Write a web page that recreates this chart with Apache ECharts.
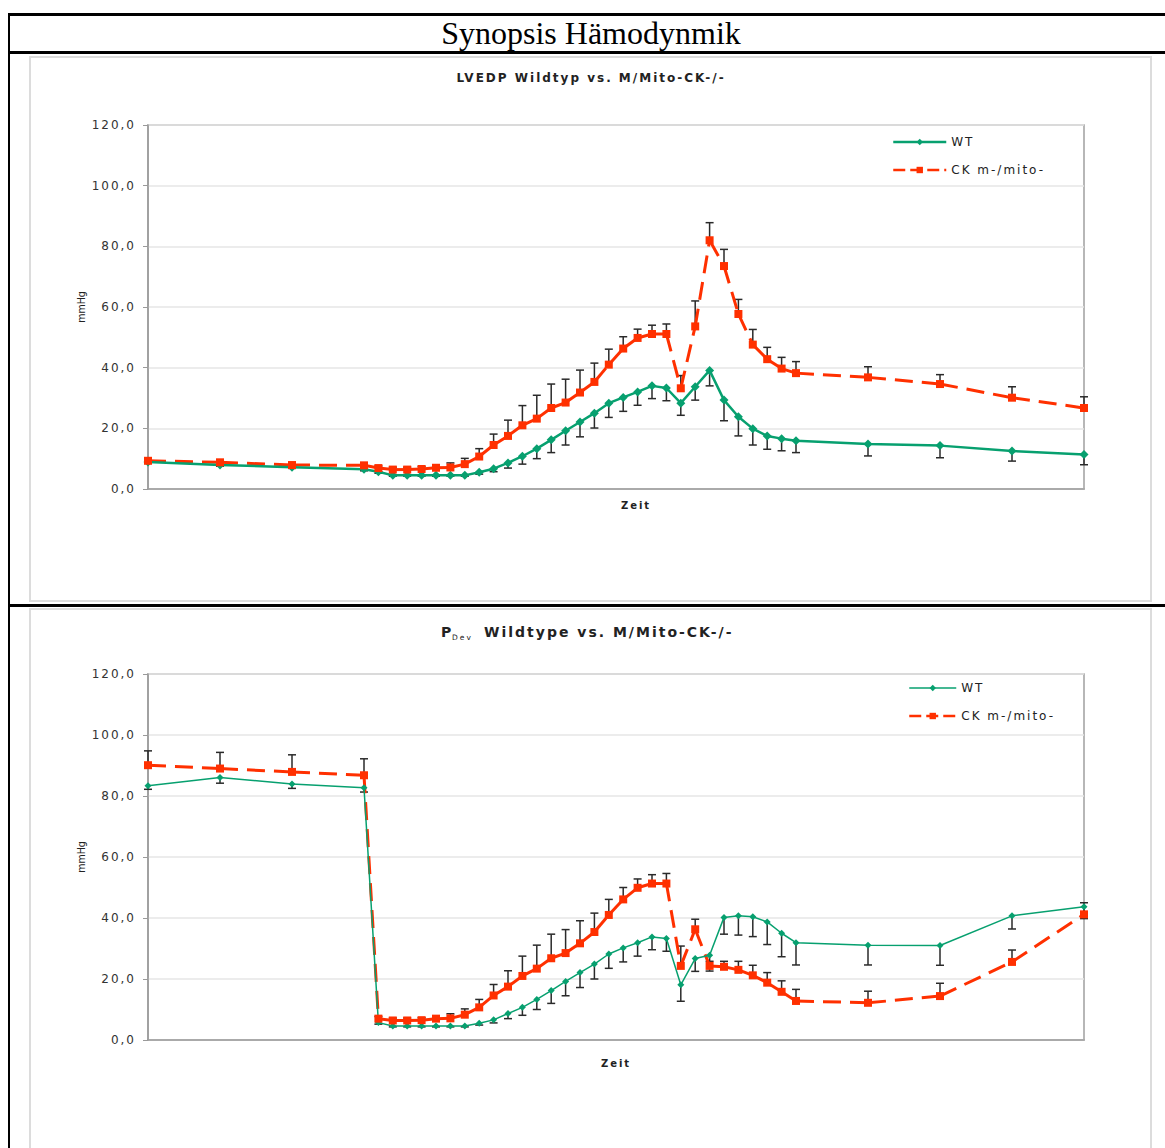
<!DOCTYPE html>
<html>
<head>
<meta charset="utf-8">
<script src="https://cdn.jsdelivr.net/npm/echarts@6/dist/echarts.min.js"></script>
<style>
  body { margin: 0; background: #fff; }
  #page { position: relative; width: 1165px; height: 1148px; overflow: hidden; background: #fff; }
  .hline { position: absolute; left: 8px; width: 1170px; height: 2.5px; background: #000; }
  .panel { position: absolute; left: 29px; width: 1119px; border: 2px solid #dcdcdc; background: #fff; }
  #heading { position: absolute; left: 10px; top: 15px; width: 1162px; height: 36px; line-height: 36px;
    text-align: center; font-family: 'Liberation Serif', 'DejaVu Serif', serif; font-size: 32px; color: #000; }
  #chart { position: absolute; left: 0; top: 0; width: 1165px; height: 1148px; }
  /* die Excel-Schrift läuft sehr weit */
  #chart svg text { letter-spacing: 2px; }
  #chart svg text[style*="Narrow"], #chart svg text[font-family*="Narrow"] { letter-spacing: 0; }
</style>
</head>
<body>
<div id="page">
  <div class="hline" style="top:13px"></div>
  <div class="hline" style="top:51px"></div>
  <div class="hline" style="top:604px"></div>
  <div style="position:absolute;left:8px;top:13px;width:2px;height:1140px;background:#000"></div>
  <div id="heading">Synopsis Hämodynmik</div>
  <div class="panel" style="top:56px;height:542px"></div>
  <div class="panel" style="top:608px;height:560px"></div>
  <div id="chart"></div>
</div>
<script>
// Zeitpunkte (Kategorie-Position auf der Zeitachse)
const zeit = [0, 5, 10, 15, 16, 17, 18, 19, 20, 21, 22, 23, 24, 25, 26, 27, 28, 29, 30, 31,
  32, 33, 34, 35, 36, 37, 38, 39, 40, 41, 42, 43, 44, 45, 50, 55, 60, 65];

// LVEDP
const lvedpWT = [8.9, 7.9, 7.2, 6.5, 5.7, 4.5, 4.5, 4.5, 4.5, 4.5, 4.5, 5.5, 6.7, 8.6, 10.8, 13.3,
  16.2, 19.2, 22.1, 25.0, 28.3, 30.2, 32.0, 34.0, 33.3, 28.3, 33.7, 39.1, 29.3, 23.8, 19.9, 17.5,
  16.6, 15.9, 14.8, 14.3, 12.5, 11.4];
const lvedpWTErr = [0.4, 0.4, 0.4, 0.5, 0.5, 0.3, 0.3, 0.3, 0.3, 0.3, 0.3, 0.6, 1.0, 1.7, 2.6, 3.3,
  4.2, 4.7, 4.9, 4.9, 4.7, 4.6, 4.4, 4.2, 4.2, 4.0, 4.4, 5.1, 6.8, 6.3, 5.4, 4.4, 4.0, 3.9, 3.9,
  4.0, 3.3, 3.4];
const lvedpCK = [9.3, 8.8, 7.9, 7.8, 6.9, 6.4, 6.4, 6.6, 7.0, 7.1, 8.2, 10.7, 14.5, 17.5, 21.0, 23.2,
  26.7, 28.5, 31.8, 35.3, 41.0, 46.3, 49.8, 51.1, 51.1, 33.2, 53.6, 82.0, 73.5, 57.7, 47.6, 42.8,
  39.7, 38.2, 36.8, 34.6, 30.1, 26.7];
const lvedpCKErr = [0.5, 0.5, 0.5, 0.6, 0.7, 0.8, 0.8, 0.8, 0.9, 1.5, 1.9, 2.6, 3.6, 5.2, 6.5, 7.7,
  7.9, 7.7, 7.4, 6.2, 5.1, 3.9, 2.9, 2.9, 3.3, 4.2, 8.4, 5.8, 5.5, 4.8, 5.0, 3.9, 3.7, 3.8, 3.5,
  3.1, 3.6, 3.7];

// PDev
const pdevWT = [83.4, 86.1, 83.9, 82.7, 5.7, 4.6, 4.6, 4.6, 4.6, 4.6, 4.6, 5.5, 6.6, 8.7, 10.7, 13.3,
  16.2, 19.2, 22.1, 24.9, 28.2, 30.2, 31.9, 33.8, 33.3, 18.1, 26.7, 27.8, 40.2, 40.7, 40.4, 38.7,
  35.0, 31.9, 31.1, 31.0, 40.7, 43.7];
const pdevWTErr = [1.2, 1.9, 1.4, 1.4, 0.5, 0.3, 0.3, 0.3, 0.3, 0.3, 0.3, 0.6, 1.0, 1.7, 2.6, 3.3,
  4.2, 4.7, 4.9, 4.9, 4.7, 4.6, 4.4, 4.2, 4.2, 5.4, 4.2, 5.2, 5.5, 6.3, 6.5, 7.4, 7.7, 7.3, 6.5,
  6.5, 4.3, 3.9];
const pdevCK = [90.1, 89.0, 87.9, 86.8, 7.0, 6.4, 6.4, 6.5, 7.0, 7.1, 8.3, 10.7, 14.6, 17.5, 21.0, 23.4,
  26.8, 28.5, 31.7, 35.4, 41.0, 46.1, 49.9, 51.3, 51.3, 24.3, 36.3, 24.3, 24.0, 23.0, 21.2, 18.8,
  15.8, 12.8, 12.2, 14.4, 25.6, 41.2];
const pdevCKErr = [4.7, 5.3, 5.6, 5.4, 0.7, 0.8, 0.8, 0.8, 0.9, 1.5, 1.9, 2.6, 3.6, 5.2, 6.5, 7.7,
  7.9, 7.7, 7.4, 6.2, 5.1, 3.9, 2.9, 2.9, 3.3, 6.5, 3.3, 1.5, 1.8, 2.8, 3.3, 3.3, 3.6, 3.8, 3.8,
  4.2, 3.9, 3.8];

const yTicks = [0, 20, 40, 60, 80, 100, 120];

const GREEN = '#07a06f';
const RED = '#ff3000';
const BAR = '#2a2a2a';
const FONT = "'DejaVu Sans', Verdana, sans-serif";
const NARROW = "'Liberation Sans Narrow', 'DejaVu Sans Condensed', 'Liberation Sans', sans-serif";
const DASH = [18, 9];

const chart = echarts.init(document.getElementById('chart'), null, { renderer: 'svg' });

const points = (vals) => zeit.map((x, i) => [x, vals[i]]);

// Excel startet das Strichmuster bei jedem Segment neu
function dashedLine(g, vals, width) {
  return {
    type: 'custom',
    xAxisIndex: g,
    yAxisIndex: g,
    silent: true,
    z: 3,
    data: zeit.slice(1).map((x, i) => [zeit[i], vals[i], x, vals[i + 1]]),
    encode: { x: [0, 2], y: [1, 3] },
    renderItem: (params, api) => {
      const a = api.coord([api.value(0), api.value(1)]);
      const b = api.coord([api.value(2), api.value(3)]);
      return {
        type: 'line',
        shape: { x1: a[0], y1: a[1], x2: b[0], y2: b[1] },
        style: { stroke: RED, lineWidth: width, lineDash: DASH },
      };
    },
  };
}

function errorBars(g, vals, errs, dir) {
  return {
    type: 'custom',
    xAxisIndex: g,
    yAxisIndex: g,
    silent: true,
    z: 2,
    data: zeit.map((x, i) => [x, vals[i], errs[i]]),
    encode: { x: 0, y: 1 },
    renderItem: (params, api) => {
      const x = api.value(0);
      const v = api.value(1);
      const p0 = api.coord([x, v]);
      const p1 = api.coord([x, v + dir * api.value(2)]);
      const style = { stroke: BAR, lineWidth: 1.5 };
      return {
        type: 'group',
        children: [
          { type: 'line', shape: { x1: p0[0], y1: p0[1], x2: p1[0], y2: p1[1] }, style },
          { type: 'line', shape: { x1: p1[0] - 4, y1: p1[1], x2: p1[0] + 4, y2: p1[1] }, style },
        ],
      };
    },
  };
}

function buildSeries(g, wt, wtErr, ck, ckErr, wtWidth, wtSize) {
  return [
    errorBars(g, wt, wtErr, -1),
    errorBars(g, ck, ckErr, 1),
    {
      type: 'line',
      name: 'WT',
      xAxisIndex: g,
      yAxisIndex: g,
      data: points(wt),
      symbol: 'diamond',
      symbolSize: wtSize,
      z: 4,
      lineStyle: { color: GREEN, width: wtWidth },
      itemStyle: { color: GREEN },
    },
    dashedLine(g, ck, 3),
    {
      type: 'line',
      name: 'CK m-/mito-',
      xAxisIndex: g,
      yAxisIndex: g,
      data: points(ck),
      symbol: 'rect',
      symbolSize: 8,
      z: 5,
      lineStyle: { color: RED, opacity: 0 },
      itemStyle: { color: RED },
    },
  ];
}

function yAxis(g) {
  return {
    type: 'value',
    gridIndex: g,
    min: yTicks[0],
    max: yTicks[yTicks.length - 1],
    interval: 20,
    name: 'mmHg',
    nameLocation: 'middle',
    nameGap: 62,
    nameTextStyle: { fontFamily: NARROW, fontSize: 10.5, color: '#222' },
    axisLine: { show: true, lineStyle: { color: '#9a9a9a', width: 1.5 } },
    axisTick: { show: true, length: 5, lineStyle: { color: '#9a9a9a' } },
    axisLabel: {
      margin: 12,
      fontFamily: FONT,
      fontSize: 12,
      color: '#333',
      formatter: (v) => v.toFixed(1).replace('.', ','),
    },
    splitLine: { lineStyle: { color: '#e6e6e6', width: 1.5 } },
  };
}

function xAxis(g, shift, gap) {
  return {
    type: 'value',
    gridIndex: g,
    min: 0,
    max: 65,
    name: 'Zeit',
    nameLocation: 'middle',
    nameGap: gap,
    nameTextStyle: { fontFamily: FONT, fontSize: 10, fontWeight: 'bold', color: '#222', padding: [0, 0, 0, shift] },
    axisLine: { show: true, lineStyle: { color: '#9a9a9a', width: 1.5 } },
    axisTick: { show: false },
    axisLabel: { show: false },
    splitLine: { show: false },
  };
}

function legend(left, top, lineLen, wtWidth) {
  return {
    orient: 'vertical',
    left,
    top,
    padding: 0,
    itemWidth: lineLen,
    itemHeight: 8,
    itemGap: 14,
    selectedMode: false,
    textStyle: { fontFamily: FONT, fontSize: 12, color: '#222', lineHeight: 14 },
    data: [
      { name: 'WT', lineStyle: { width: wtWidth } },
      { name: 'CK m-/mito-', lineStyle: { opacity: 1, width: 2.5, type: [12, 5], color: RED } },
    ],
  };
}

const titleText = (x, y, text, font, align) => ({
  type: 'text',
  x,
  y,
  style: { text, font, align, verticalAlign: 'middle', fill: '#222' },
});

chart.setOption({
  animation: false,
  grid: [
    { left: 148, top: 125, width: 936, height: 364, show: true, borderColor: '#a0a0a0', borderWidth: 1.5 },
    { left: 148, top: 674, width: 936, height: 366, show: true, borderColor: '#a0a0a0', borderWidth: 1.5 },
  ],
  xAxis: [xAxis(0, 40, 11), xAxis(1, 0, 18)],
  yAxis: [yAxis(0), yAxis(1)],
  legend: [legend(892, 135, 53, 2.5), legend(908, 681, 47, 1.5)],
  graphic: [
    titleText(591, 78, 'LVEDP Wildtyp vs. M/Mito-CK-/-', 'bold 12px ' + FONT, 'center'),
    // P mit tiefgestelltem "Dev"
    titleText(441, 632, 'P', 'bold 14px ' + FONT, 'left'),
    titleText(452, 637, 'Dev', '7.5px ' + FONT, 'left'),
    titleText(484, 632, 'Wildtype vs. M/Mito-CK-/-', 'bold 14px ' + FONT, 'left'),
  ],
  series: [
    ...buildSeries(0, lvedpWT, lvedpWTErr, lvedpCK, lvedpCKErr, 2.5, 9),
    ...buildSeries(1, pdevWT, pdevWTErr, pdevCK, pdevCKErr, 1.5, 7),
  ],
});
</script>
</body>
</html>
